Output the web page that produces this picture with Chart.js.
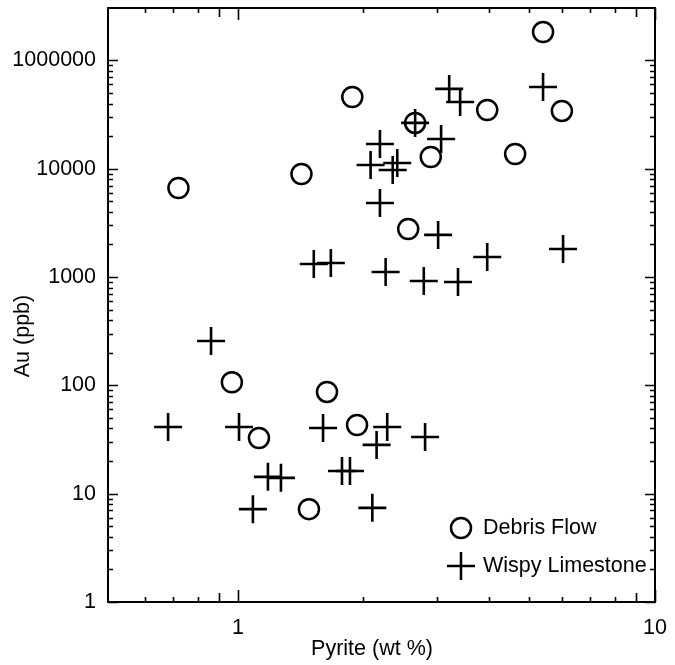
<!DOCTYPE html>
<html>
<head>
<meta charset="utf-8">
<script src="https://cdn.jsdelivr.net/npm/chart.js@4"></script>
<style>
    body { margin: 0; background: #fff; }
    #wrap { width: 675px; height: 665px; }
</style>
</head>
<body>
<div id="wrap"><canvas id="my_chart" width="675" height="665"></canvas></div>
<script>
// Debris Flow samples (circles)
const debrisPyrite = [0.72, 1.42, 1.88, 5.39, 2.66, 3.96, 5.98, 2.90, 4.62, 2.56, 0.967, 1.635, 1.123, 1.93, 1.48];
const debrisAu = [6650, 8950, 46000, 183000, 26500, 34900, 34200, 12850, 13700, 2780, 107, 87, 32.7, 43.1, 7.2];

// Wispy Limestone samples (crosses)
const wispyPyrite = [3.21, 3.41, 5.39, 2.66, 3.07, 2.19, 2.08, 2.41, 2.35, 2.19, 3.02, 6.02, 3.96, 1.52, 1.67, 2.26, 2.79, 3.37,
    0.862, 0.68, 1.006, 1.60, 2.28, 2.15, 2.81, 1.18, 1.268, 1.776, 1.856, 1.086, 2.10];
const wispyAu = [54600, 41400, 56900, 26500, 18850, 16940, 10840, 11320, 9750, 4830, 2450, 1817, 1534, 1321, 1350, 1114, 920, 901,
    257, 41.3, 41.3, 40.4, 41.3, 28.2, 33.4, 14.3, 14.0, 16.2, 16.2, 7.2, 7.4];

const xMajorTicks = [1, 10];
const xTickLabels = ['1', '10'];
const xMidTicks = [0.9, 9];
const xMinorTicks = [0.6, 0.7, 0.8, 2, 3, 4, 5, 6, 7, 8];
const yMajorTicks = [1, 10, 100, 1000, 10000, 100000];
const yTickLabels = ['1', '10', '100', '1000', '10000', '1000000'];

const seriesNames = ['Debris Flow', 'Wispy Limestone'];
const FONT = '"Liberation Sans", Arial, Helvetica, sans-serif';
const FONT_SIZE = 21.5;

function toPoints(xs, ys) {
    return xs.map((x, i) => ({ x: x, y: ys[i] }));
}

const frameTicks = {
    id: 'frameTicks',
    afterDraw(chart) {
        const ctx = chart.ctx;
        const a = chart.chartArea;
        const xs = chart.scales.x;
        const ys = chart.scales.y;
        ctx.save();
        ctx.strokeStyle = '#000';
        ctx.lineWidth = 2;
        ctx.strokeRect(a.left, a.top, a.right - a.left, a.bottom - a.top);
        ctx.lineWidth = 1.6;
        const xTick = (v, len) => {
            const p = Math.round(xs.getPixelForValue(v)) + 0.5;
            ctx.beginPath();
            ctx.moveTo(p, a.bottom); ctx.lineTo(p, a.bottom - len);
            ctx.moveTo(p, a.top); ctx.lineTo(p, a.top + len);
            ctx.stroke();
        };
        const yTick = (v, len) => {
            const p = Math.round(ys.getPixelForValue(v)) + 0.5;
            ctx.beginPath();
            ctx.moveTo(a.left, p); ctx.lineTo(a.left + len, p);
            ctx.moveTo(a.right, p); ctx.lineTo(a.right - len, p);
            ctx.stroke();
        };
        xMajorTicks.forEach((v) => xTick(v, 12));
        xMidTicks.forEach((v) => xTick(v, 9));
        xMinorTicks.forEach((v) => xTick(v, 5));
        yMajorTicks.forEach((v) => yTick(v, 10));
        yMajorTicks.slice(0, -1).forEach((d) => {
            for (let k = 2; k <= 9; k++) yTick(d * k, 5);
        });

        // axis titles
        ctx.fillStyle = '#000';
        ctx.font = FONT_SIZE + 'px ' + FONT;
        ctx.textAlign = 'center';
        ctx.textBaseline = 'middle';
        ctx.fillText('Pyrite (wt %)', 372, 649);
        ctx.save();
        ctx.translate(23, 336);
        ctx.rotate(-Math.PI / 2);
        ctx.fillText('Au (ppb)', 0, 0);
        ctx.restore();

        // legend in the lower right corner
        const lx = a.right - 194;
        const ly = a.bottom - 74;
        ctx.lineWidth = 2.5;
        ctx.beginPath();
        ctx.arc(lx, ly, 10, 0, Math.PI * 2);
        ctx.stroke();
        ctx.beginPath();
        ctx.moveTo(lx - 14, ly + 38); ctx.lineTo(lx + 14, ly + 38);
        ctx.moveTo(lx, ly + 24); ctx.lineTo(lx, ly + 52);
        ctx.stroke();
        ctx.textAlign = 'left';
        ctx.fillText(seriesNames[0], lx + 22, ly);
        ctx.fillText(seriesNames[1], lx + 22, ly + 38);
        ctx.restore();
    }
};

const info = {
    datasets: [
        {
            label: seriesNames[0],
            data: toPoints(debrisPyrite, debrisAu),
            pointStyle: 'circle',
            pointRadius: 10,
            pointHoverRadius: 10,
            borderColor: '#000',
            backgroundColor: 'rgba(0,0,0,0)',
            borderWidth: 2.5,
        },
        {
            label: seriesNames[1],
            data: toPoints(wispyPyrite, wispyAu),
            pointStyle: 'cross',
            pointRadius: 14,
            pointHoverRadius: 14,
            borderColor: '#000',
            backgroundColor: '#000',
            borderWidth: 2.6,
        }
    ]
};

const options = {
    responsive: false,
    animation: false,
    layout: { autoPadding: false, padding: { top: 8, right: 20, left: 0, bottom: 0 } },
    scales: {
        x: {
            type: 'logarithmic',
            min: 0.488,
            max: 10,
            afterFit: (scale) => {
                scale.height = 63;
                scale.paddingLeft = 0;
                scale.paddingRight = 0;
            },
            afterBuildTicks: (scale) => { scale.ticks = xMajorTicks.map((v) => ({ value: v })); },
            grid: { display: false, drawTicks: false },
            border: { display: false },
            ticks: {
                color: '#000',
                padding: 13,
                maxRotation: 0,
                font: { family: FONT, size: FONT_SIZE },
                callback: (value) => xTickLabels[xMajorTicks.indexOf(value)]
            }
        },
        y: {
            type: 'logarithmic',
            min: 1,
            max: 305000,
            afterFit: (scale) => {
                scale.width = 108;
                scale.paddingTop = 0;
                scale.paddingBottom = 0;
            },
            afterBuildTicks: (scale) => { scale.ticks = yMajorTicks.map((v) => ({ value: v })); },
            grid: { display: false, drawTicks: false },
            border: { display: false },
            ticks: {
                color: '#000',
                padding: 12,
                font: { family: FONT, size: FONT_SIZE },
                callback: (value) => yTickLabels[yMajorTicks.indexOf(value)]
            }
        }
    },
    plugins: {
        legend: { display: false },
        tooltip: { enabled: false }
    }
};

const config = {
    type: 'scatter',
    data: info,
    options,
    plugins: [frameTicks]
};

const myChart = new Chart(document.getElementById('my_chart'), config);
</script>
</body>
</html>
